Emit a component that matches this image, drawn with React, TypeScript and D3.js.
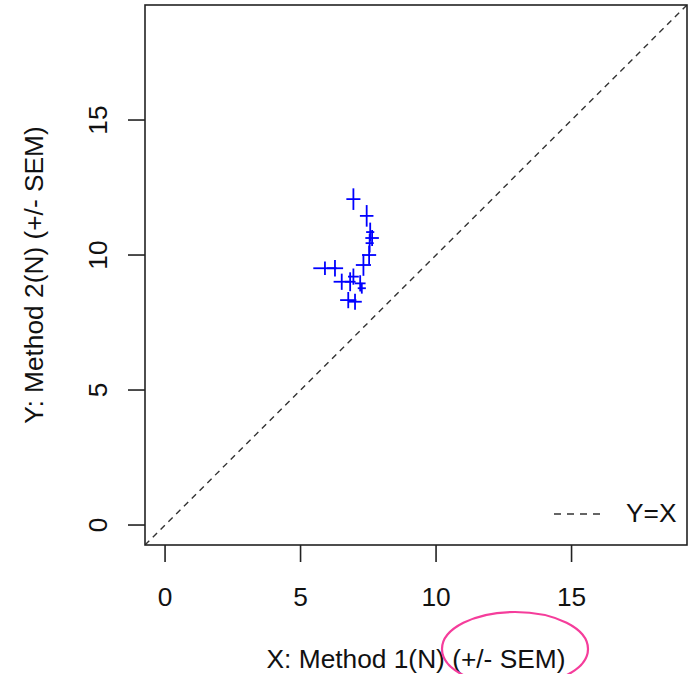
import React from "react";
import * as d3 from "d3";

const xMean = [6.95, 7.44, 7.57, 7.64, 7.55, 7.53, 7.32, 5.9, 6.27, 6.52, 6.83, 6.95, 7.2, 7.26, 6.76, 7.01];
const yMean = [12.07, 11.45, 10.85, 10.63, 10.44, 10.0, 9.63, 9.51, 9.51, 9.01, 9.01, 9.2, 8.95, 8.77, 8.33, 8.27];
const xSem = [0.26, 0.25, 0.15, 0.25, 0.15, 0.26, 0.28, 0.43, 0.3, 0.3, 0.2, 0.2, 0.2, 0.15, 0.3, 0.25];
const ySem = [0.4, 0.4, 0.35, 0.3, 0.35, 0.35, 0.4, 0.25, 0.31, 0.3, 0.35, 0.3, 0.3, 0.2, 0.3, 0.3];
const xTicks = [0, 5, 10, 15];
const yTicks = [0, 5, 10, 15];
const xTitle = "X: Method 1(N) (+/- SEM)";
const yTitle = "Y: Method 2(N) (+/- SEM)";
const legendLabel = "Y=X";
const domain = [-0.74, 19.26];

export default function App() {
  const W = 688, H = 674;
  const L = 145, R = 687, T = 5, B = 545;
  const x = d3.scaleLinear().domain(domain).range([L, R]);
  const y = d3.scaleLinear().domain(domain).range([B, T]);
  const font = "Arial, 'Liberation Sans', sans-serif";
  const txt = "#111";
  const fs = 26.3;
  const line = d3.line<[number, number]>().x((d) => x(d[0])).y((d) => y(d[1]));
  return (
    <svg width={W} height={H} style={{ position: "absolute", left: 0, top: 0, background: "#fff" }}>
      <defs>
        <clipPath id="plot">
          <rect x={L} y={T} width={R - L} height={B - T} />
        </clipPath>
      </defs>
      <rect x={0} y={0} width={W} height={H} fill="#fff" />
      {/* Y=X */}
      <path
        d={line([[domain[0], domain[0]], [domain[1], domain[1]]]) || ""}
        stroke="#333"
        strokeWidth={1.4}
        strokeDasharray="6,5"
        fill="none"
        clipPath="url(#plot)"
      />
      {/* error crosses */}
      <g stroke="#0000ff" strokeWidth={1.8} clipPath="url(#plot)">
        {xMean.map((mx, i) => (
          <g key={i}>
            <line x1={x(mx - xSem[i])} x2={x(mx + xSem[i])} y1={y(yMean[i])} y2={y(yMean[i])} />
            <line x1={x(mx)} x2={x(mx)} y1={y(yMean[i] - ySem[i])} y2={y(yMean[i] + ySem[i])} />
          </g>
        ))}
      </g>
      {/* box */}
      <rect x={L} y={T} width={R - L} height={B - T} fill="none" stroke="#222" strokeWidth={1.6} />
      {/* x axis */}
      <g>
        {xTicks.map((t) => (
          <g key={t}>
            <line x1={x(t)} x2={x(t)} y1={B} y2={B + 17} stroke="#222" strokeWidth={1.6} />
            <text x={x(t)} y={606} textAnchor="middle" fontFamily={font} fontSize={fs} fill={txt}>
              {t}
            </text>
          </g>
        ))}
      </g>
      {/* y axis */}
      <g>
        {yTicks.map((t) => (
          <g key={t}>
            <line x1={L} x2={L - 17} y1={y(t)} y2={y(t)} stroke="#222" strokeWidth={1.6} />
            <text
              transform={`translate(107,${y(t)}) rotate(-90)`}
              textAnchor="middle"
              fontFamily={font}
              fontSize={fs}
              fill={txt}
            >
              {t}
            </text>
          </g>
        ))}
      </g>
      <text x={(L + R) / 2} y={668} textAnchor="middle" fontFamily={font} fontSize={fs} fill={txt}>
        {xTitle}
      </text>
      <text
        transform={`translate(43,${(T + B) / 2}) rotate(-90)`}
        textAnchor="middle"
        fontFamily={font}
        fontSize={fs}
        fill={txt}
      >
        {yTitle}
      </text>
      {/* legend */}
      <line x1={554} x2={603} y1={514} y2={514} stroke="#333" strokeWidth={1.4} strokeDasharray="7,6" />
      <text x={626} y={522} fontFamily={font} fontSize={fs} fill={txt}>
        {legendLabel}
      </text>
      {/* annotation ellipse */}
      <ellipse cx={515} cy={649} rx={73} ry={37} fill="none" stroke="#f53d9b" strokeWidth={2.2} />
    </svg>
  );
}
